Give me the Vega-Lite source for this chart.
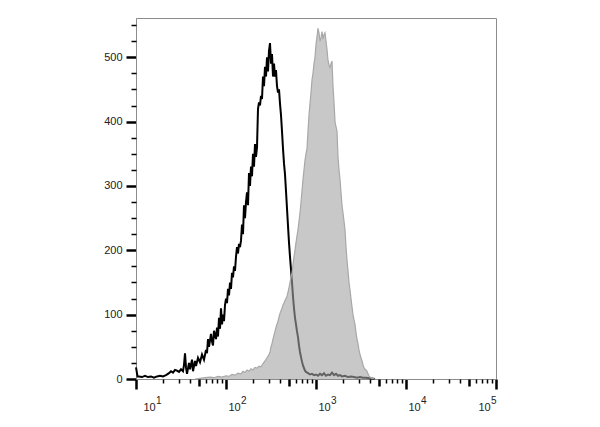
{
  "$schema": "https://vega.github.io/schema/vega-lite/v6.json",
  "width": 360,
  "height": 361,
  "autosize": "none",
  "padding": {"left": 136, "top": 18, "right": 104, "bottom": 48},
  "background": "white",
  "config": {
    "view": {"stroke": "#8c8c8c", "strokeWidth": 1},
    "axis": {
      "grid": false,
      "title": null,
      "domainColor": "#8c8c8c",
      "domainWidth": 1,
      "tickColor": "#000000",
      "labelFont": "Liberation Sans",
      "labelFontSize": 11,
      "labelColor": "#222222"
    }
  },
  "datasets": {
    "ctrl": [
      {"fl":10,"count":18},{"fl":10.4,"count":4},{"fl":10.8,"count":4},{"fl":11.66,"count":3},{"fl":12.59,"count":5},{"fl":13.59,"count":3},{"fl":14.68,"count":4},{"fl":15.85,"count":2},{"fl":17.11,"count":4},{"fl":18.48,"count":5},{"fl":19.95,"count":4},{"fl":21.54,"count":6},{"fl":23.26,"count":9},{"fl":24.48,"count":12},{"fl":25.77,"count":10},{"fl":27.12,"count":14},{"fl":28.55,"count":13},{"fl":30.05,"count":11},{"fl":31.62,"count":15},{"fl":33.28,"count":12},{"fl":34.15,"count":22},{"fl":35.03,"count":40},{"fl":35.94,"count":18},{"fl":36.87,"count":8},{"fl":38.81,"count":25},{"fl":39.81,"count":15},{"fl":41.9,"count":30},{"fl":42.99,"count":12},{"fl":45.24,"count":28},{"fl":46.42,"count":20},{"fl":48.85,"count":33},{"fl":51.42,"count":26},{"fl":54.12,"count":38},{"fl":56.96,"count":30},{"fl":59.95,"count":45},{"fl":61.5,"count":40},{"fl":63.1,"count":62},{"fl":64.73,"count":50},{"fl":68.13,"count":70},{"fl":69.89,"count":58},{"fl":71.71,"count":52},{"fl":73.56,"count":75},{"fl":77.43,"count":62},{"fl":79.43,"count":80},{"fl":81.49,"count":66},{"fl":83.6,"count":95},{"fl":85.77,"count":78},{"fl":87.99,"count":110},{"fl":90.27,"count":85},{"fl":92.61,"count":100},{"fl":95.01,"count":90},{"fl":97.47,"count":115},{"fl":100,"count":125},{"fl":102.59,"count":118},{"fl":105.25,"count":140},{"fl":107.98,"count":130},{"fl":110.78,"count":150},{"fl":113.65,"count":140},{"fl":116.59,"count":165},{"fl":119.61,"count":158},{"fl":122.71,"count":175},{"fl":125.89,"count":168},{"fl":129.15,"count":190},{"fl":132.5,"count":205},{"fl":135.94,"count":195},{"fl":139.46,"count":210},{"fl":143.07,"count":205},{"fl":146.78,"count":215},{"fl":150.58,"count":240},{"fl":154.48,"count":225},{"fl":158.49,"count":270},{"fl":162.6,"count":250},{"fl":166.81,"count":275},{"fl":171.13,"count":290},{"fl":175.56,"count":270},{"fl":180.11,"count":320},{"fl":184.78,"count":300},{"fl":189.57,"count":330},{"fl":194.48,"count":315},{"fl":199.53,"count":350},{"fl":204.69,"count":330},{"fl":210,"count":365},{"fl":215.44,"count":345},{"fl":221.02,"count":360},{"fl":226.75,"count":420},{"fl":232.63,"count":430},{"fl":238.65,"count":425},{"fl":244.84,"count":440},{"fl":251.19,"count":435},{"fl":257.69,"count":470},{"fl":264.37,"count":455},{"fl":271.23,"count":485},{"fl":278.26,"count":470},{"fl":285.47,"count":500},{"fl":292.86,"count":478},{"fl":300.45,"count":510},{"fl":308.24,"count":522},{"fl":316.23,"count":490},{"fl":324.42,"count":505},{"fl":332.83,"count":470},{"fl":341.45,"count":490},{"fl":350.3,"count":470},{"fl":359.38,"count":480},{"fl":368.69,"count":455},{"fl":378.24,"count":445},{"fl":388.05,"count":450},{"fl":398.11,"count":428},{"fl":408.42,"count":410},{"fl":419,"count":385},{"fl":429.86,"count":358},{"fl":441,"count":335},{"fl":452.43,"count":318},{"fl":464.16,"count":292},{"fl":476.19,"count":265},{"fl":488.53,"count":238},{"fl":501.19,"count":212},{"fl":514.17,"count":190},{"fl":527.5,"count":170},{"fl":541.17,"count":150},{"fl":555.19,"count":128},{"fl":569.58,"count":110},{"fl":584.34,"count":95},{"fl":599.48,"count":85},{"fl":615.01,"count":74},{"fl":630.96,"count":65},{"fl":647.31,"count":52},{"fl":664.08,"count":42},{"fl":681.29,"count":34},{"fl":698.94,"count":27},{"fl":717.06,"count":21},{"fl":735.64,"count":17},{"fl":754.7,"count":13},{"fl":774.26,"count":11},{"fl":814.91,"count":9},{"fl":857.7,"count":7},{"fl":902.72,"count":8},{"fl":950.12,"count":6},{"fl":1000,"count":7},{"fl":1052.5,"count":5},{"fl":1107.8,"count":8},{"fl":1165.9,"count":6},{"fl":1227.1,"count":9},{"fl":1291.5,"count":5},{"fl":1359.4,"count":7},{"fl":1430.7,"count":6},{"fl":1505.8,"count":10},{"fl":1584.9,"count":6},{"fl":1668.1,"count":8},{"fl":1755.6,"count":5},{"fl":1847.8,"count":6},{"fl":1944.8,"count":4},{"fl":2100,"count":5},{"fl":2267.5,"count":3},{"fl":2448.4,"count":4},{"fl":2643.7,"count":3},{"fl":2854.7,"count":2},{"fl":3082.4,"count":3},{"fl":3328.3,"count":2},{"fl":3593.8,"count":2},{"fl":3981.1,"count":1},{"fl":4524.3,"count":0}
    ],
    "stain": [
      {"fl":45.24,"count":0},{"fl":51.42,"count":1},{"fl":58.43,"count":2},{"fl":66.41,"count":3},{"fl":73.56,"count":2},{"fl":81.49,"count":4},{"fl":90.27,"count":3},{"fl":100,"count":5},{"fl":107.98,"count":4},{"fl":116.59,"count":7},{"fl":125.89,"count":6},{"fl":135.94,"count":9},{"fl":146.78,"count":8},{"fl":154.48,"count":12},{"fl":162.6,"count":10},{"fl":171.13,"count":14},{"fl":180.11,"count":12},{"fl":189.57,"count":16},{"fl":199.53,"count":14},{"fl":210,"count":18},{"fl":221.02,"count":17},{"fl":232.63,"count":20},{"fl":244.84,"count":19},{"fl":257.69,"count":24},{"fl":271.23,"count":28},{"fl":285.47,"count":33},{"fl":300.45,"count":38},{"fl":308.24,"count":42},{"fl":316.23,"count":50},{"fl":324.42,"count":55},{"fl":332.83,"count":62},{"fl":341.45,"count":68},{"fl":350.3,"count":74},{"fl":359.38,"count":80},{"fl":368.69,"count":85},{"fl":378.24,"count":90},{"fl":388.05,"count":96},{"fl":398.11,"count":102},{"fl":408.42,"count":106},{"fl":419,"count":110},{"fl":429.86,"count":115},{"fl":441,"count":118},{"fl":452.43,"count":122},{"fl":464.16,"count":125},{"fl":476.19,"count":128},{"fl":488.53,"count":135},{"fl":501.19,"count":142},{"fl":514.17,"count":150},{"fl":527.5,"count":158},{"fl":541.17,"count":165},{"fl":555.19,"count":178},{"fl":569.58,"count":190},{"fl":584.34,"count":200},{"fl":599.48,"count":212},{"fl":615.01,"count":222},{"fl":630.96,"count":232},{"fl":647.31,"count":245},{"fl":664.08,"count":258},{"fl":681.29,"count":275},{"fl":698.94,"count":292},{"fl":717.06,"count":310},{"fl":735.64,"count":325},{"fl":754.7,"count":340},{"fl":774.26,"count":350},{"fl":794.33,"count":358},{"fl":814.91,"count":385},{"fl":836.03,"count":410},{"fl":857.7,"count":428},{"fl":879.92,"count":445},{"fl":902.72,"count":465},{"fl":926.12,"count":475},{"fl":950.12,"count":490},{"fl":974.74,"count":500},{"fl":1000,"count":520},{"fl":1025.9,"count":532},{"fl":1052.5,"count":545},{"fl":1079.8,"count":538},{"fl":1107.8,"count":525},{"fl":1136.5,"count":530},{"fl":1165.9,"count":540},{"fl":1196.1,"count":528},{"fl":1227.1,"count":535},{"fl":1258.9,"count":538},{"fl":1291.5,"count":525},{"fl":1325,"count":512},{"fl":1359.4,"count":495},{"fl":1394.6,"count":488},{"fl":1430.7,"count":484},{"fl":1467.8,"count":490},{"fl":1505.8,"count":494},{"fl":1544.8,"count":455},{"fl":1584.9,"count":430},{"fl":1626,"count":400},{"fl":1668.1,"count":392},{"fl":1711.3,"count":385},{"fl":1755.6,"count":345},{"fl":1801.1,"count":325},{"fl":1847.8,"count":310},{"fl":1895.7,"count":290},{"fl":1944.8,"count":270},{"fl":1995.3,"count":258},{"fl":2046.9,"count":245},{"fl":2100,"count":232},{"fl":2154.4,"count":205},{"fl":2210.2,"count":185},{"fl":2267.5,"count":168},{"fl":2326.3,"count":150},{"fl":2386.5,"count":138},{"fl":2448.4,"count":125},{"fl":2511.9,"count":112},{"fl":2576.9,"count":100},{"fl":2643.7,"count":92},{"fl":2712.3,"count":85},{"fl":2782.6,"count":72},{"fl":2854.7,"count":62},{"fl":2928.6,"count":55},{"fl":3004.5,"count":45},{"fl":3082.4,"count":38},{"fl":3162.3,"count":33},{"fl":3244.2,"count":28},{"fl":3328.3,"count":22},{"fl":3414.5,"count":18},{"fl":3503,"count":15},{"fl":3593.8,"count":14},{"fl":3686.9,"count":12},{"fl":3782.4,"count":8},{"fl":3880.5,"count":5},{"fl":3981.1,"count":3},{"fl":4190,"count":1},{"fl":4524.3,"count":0}
    ]
  },
  "resolve": {"axis": {"x": "independent", "y": "independent"}},
  "layer": [
    {
      "data": {"name": "ctrl"},
      "mark": {"type": "line", "color": "#000000", "strokeWidth": 2, "interpolate": "linear"},
      "encoding": {
        "x": {
          "field": "fl", "type": "quantitative",
          "scale": {"type": "log", "domain": [10, 100000], "nice": false},
          "axis": {
            "orient": "bottom",
            "values": [10, 100, 1000, 10000, 100000],
            "tickSize": 10, "tickWidth": 2.5,
            "labelPadding": 12,
            "labelFlush": false,
            "labelAlign": "left",
            "labelOffset": {"condition": [{"test": "datum.value == 10", "value": 7}, {"test": "datum.value >= 100000", "value": -18}], "value": 2},
            "labelExpr": "'10'"
          }
        },
        "y": {
          "field": "count", "type": "quantitative",
          "scale": {"domain": [0, 561], "nice": false},
          "axis": {
            "orient": "left",
            "values": [0, 100, 200, 300, 400, 500],
            "tickSize": 10, "tickWidth": 2.5,
            "labelPadding": 4
          }
        }
      }
    },
    {
      "data": {"name": "stain"},
      "mark": {"type": "area", "color": "#a3a3a3", "fillOpacity": 0.6, "interpolate": "linear", "line": {"color": "#a8a8a8", "strokeWidth": 1.2}},
      "encoding": {
        "x": {
          "field": "fl", "type": "quantitative",
          "axis": {
            "orient": "bottom",
            "values": [20, 30, 40, 50, 60, 70, 80, 90, 200, 300, 400, 500, 600, 700, 800, 900, 2000, 3000, 4000, 5000, 6000, 7000, 8000, 9000, 20000, 30000, 40000, 50000, 60000, 70000, 80000, 90000],
            "labels": false, "domain": false,
            "tickSize": {"condition": {"test": "datum.value == 50 || datum.value == 500 || datum.value == 5000 || datum.value == 50000", "value": 7}, "value": 4},
            "tickWidth": {"condition": {"test": "datum.value == 50 || datum.value == 500 || datum.value == 5000 || datum.value == 50000", "value": 2.5}, "value": 1.5}
          }
        },
        "y": {
          "field": "count", "type": "quantitative",
          "axis": {
            "orient": "left",
            "values": [25, 50, 75, 125, 150, 175, 225, 250, 275, 325, 350, 375, 425, 450, 475, 525, 550],
            "labels": false, "domain": false,
            "tickSize": 5, "tickWidth": 1.5
          }
        }
      }
    },
    {
      "data": {"name": "ctrl"},
      "mark": {"type": "line", "opacity": 0},
      "encoding": {
        "x": {
          "field": "fl", "type": "quantitative",
          "axis": {
            "orient": "bottom",
            "values": [10, 100, 1000, 10000, 100000],
            "ticks": false, "domain": false,
            "labelPadding": 16,
            "labelFontSize": 10,
            "labelFlush": false,
            "labelAlign": "left",
            "labelOffset": {"condition": [{"test": "datum.value == 10", "value": 19.5}, {"test": "datum.value >= 100000", "value": -5.5}], "value": 14.5},
            "labelExpr": "datum.value == 10 ? '1' : datum.value == 100 ? '2' : datum.value == 1000 ? '3' : datum.value == 10000 ? '4' : '5'"
          }
        },
        "y": {
          "field": "count", "type": "quantitative",
          "axis": null
        }
      }
    }
  ]
}
